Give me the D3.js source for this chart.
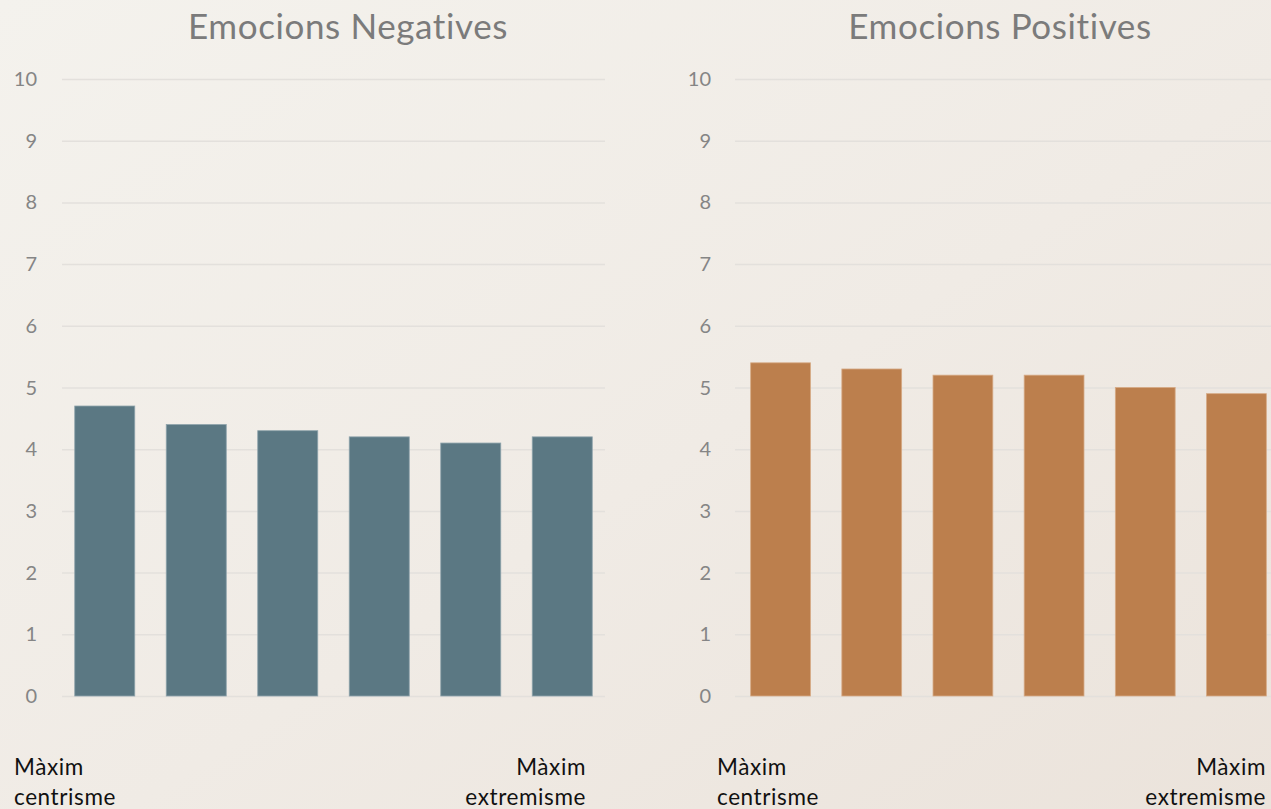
<!DOCTYPE html>
<html>
<head>
<meta charset="utf-8">
<script src="https://cdn.jsdelivr.net/npm/d3@7"></script>
<style>
  html, body { margin: 0; padding: 0; overflow: hidden; }
  svg { display: block; font-family: Lato, "Open Sans", sans-serif; font-variant-ligatures: none; }
</style>
</head>
<body>
<svg id="chart" width="1271" height="809"></svg>
<script>
// categories along the centrism -> extremism scale
let categories = ["1", "2", "3", "4", "5", "6"];
let negativeValues = [4.7, 4.4, 4.3, 4.2, 4.1, 4.2];
let positiveValues = [5.4, 5.3, 5.2, 5.2, 5.0, 4.9];
let yDomain = [0, 10];
let leftLabel = ["Màxim", "centrisme"];
let rightLabel = ["Màxim", "extremisme"];

let width = 1271;
let height = 809;
let svg = d3.select("#chart");

// background wash
let defs = svg.append("defs");
let grad = defs.append("linearGradient")
    .attr("id", "bg")
    .attr("x1", "0%").attr("y1", "0%")
    .attr("x2", "100%").attr("y2", "100%");
grad.append("stop").attr("offset", "0%").attr("stop-color", "#f4f2ed");
grad.append("stop").attr("offset", "55%").attr("stop-color", "#f0ebe5");
grad.append("stop").attr("offset", "100%").attr("stop-color", "#ebe3db");
svg.append("rect")
    .attr("width", width)
    .attr("height", height)
    .attr("fill", "url(#bg)");

let y = d3.scaleLinear()
    .domain(yDomain)
    .range([696, 79]);

function drawPanel(opts) {
    let g = svg.append("g");

    let x = d3.scaleBand()
        .domain(categories)
        .range(opts.barRange)
        .paddingInner(0.344)
        .paddingOuter(0.172);

    // gridlines
    g.selectAll(".grid")
        .data(y.ticks(10))
        .enter()
        .append("line")
            .attr("x1", opts.grid[0])
            .attr("x2", opts.grid[1])
            .attr("y1", d => y(d) + 0.5)
            .attr("y2", d => y(d) + 0.5)
            .attr("stroke", "#e3e0dc")
            .attr("stroke-width", 1.5);

    // tick labels
    g.selectAll(".tick-label")
        .data(y.ticks(10))
        .enter()
        .append("text")
            .attr("x", opts.tickX)
            .attr("y", d => y(d))
            .attr("dy", "0.35em")
            .attr("text-anchor", "end")
            .attr("font-size", 20)
            .attr("fill", "#858585")
            .text(d => d);

    // bars
    g.selectAll(".bar")
        .data(opts.values)
        .enter()
        .append("rect")
            .attr("x", (d, i) => x(categories[i]))
            .attr("y", d => y(d))
            .attr("width", x.bandwidth())
            .attr("height", d => y(0) - y(d))
            .attr("fill", opts.color)
            .attr("stroke", opts.stroke)
            .attr("stroke-width", 0.8);

    // title
    g.append("text")
        .attr("x", opts.titleX)
        .attr("y", 39)
        .attr("text-anchor", "middle")
        .attr("font-size", 35)
        .attr("letter-spacing", 0.6)
        .attr("fill", "#7b7b7b")
        .text(opts.title);

    // end labels
    let left = g.append("text")
        .attr("x", opts.labelLeft)
        .attr("y", 775)
        .attr("font-size", 22.5)
        .attr("letter-spacing", 0.6)
        .attr("fill", "#111");
    leftLabel.forEach((t, i) => {
        left.append("tspan").attr("x", opts.labelLeft).attr("dy", i ? 30 : 0).text(t);
    });
    let right = g.append("text")
        .attr("x", opts.labelRight)
        .attr("y", 775)
        .attr("text-anchor", "end")
        .attr("font-size", 22.5)
        .attr("letter-spacing", 0.6)
        .attr("fill", "#111");
    rightLabel.forEach((t, i) => {
        right.append("tspan").attr("x", opts.labelRight).attr("dy", i ? 30 : 0).text(t);
    });
}

drawPanel({
    title: "Emocions Negatives",
    values: negativeValues,
    color: "#5b7883",
    stroke: "#8fa4ac",
    barRange: [59, 608],
    grid: [62, 605],
    tickX: 37,
    titleX: 348,
    labelLeft: 14,
    labelRight: 586
});

drawPanel({
    title: "Emocions Positives",
    values: positiveValues,
    color: "#bc7f4d",
    stroke: "#d6aa85",
    barRange: [735, 1282],
    grid: [735, 1271],
    tickX: 711,
    titleX: 1000,
    labelLeft: 717,
    labelRight: 1266
});
</script>
</body>
</html>
